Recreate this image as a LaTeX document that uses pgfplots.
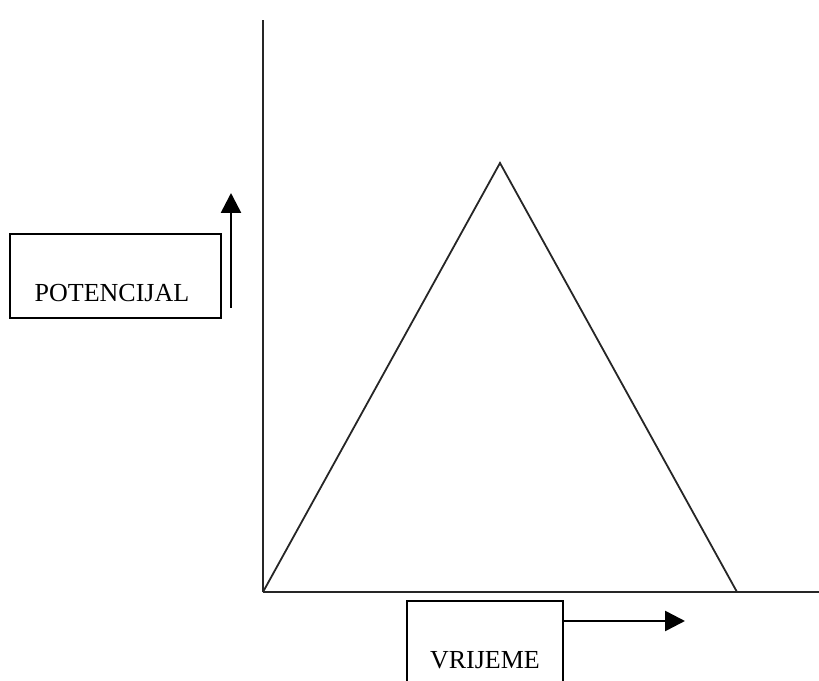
\documentclass[border=0pt]{standalone}
\usepackage{fontspec}
\setmainfont{Liberation Serif}
\usepackage{pgfplots}
\pgfplotsset{compat=1.18}
\usetikzlibrary{arrows.meta}

\begin{document}
\begin{tikzpicture}
\begin{axis}[
  x=0.5pt, y=0.5pt,
  xmin=0, xmax=556,
  ymin=0, ymax=572,
  axis lines*=left,
  axis line style={line width=1pt, black!85},
  ticks=none,
  clip=false,
]
% potential rises linearly, then falls back to zero
\addplot[black!85, line width=0.9pt] coordinates {(0,0) (237,429) (474,0)};

% label boxes with arrows
\draw[line width=0.8pt] (axis cs:-253,274) rectangle (axis cs:-42,358);
\node[anchor=base, font=\fontsize{13}{15}\selectfont] at (axis cs:-151,290) {POTENCIJAL};
\draw[line width=1.3pt, -{Triangle[length=10pt,width=10pt]}] (axis cs:-32,284) -- (axis cs:-32,399);

\draw[line width=0.8pt] (axis cs:144,-9) rectangle (axis cs:300,-96);
\node[anchor=base, font=\fontsize{13}{15}\selectfont] at (axis cs:222,-76) {VRIJEME};
\draw[line width=1.3pt, -{Triangle[length=10pt,width=10pt]}] (axis cs:300,-29) -- (axis cs:422,-29);

\coordinate (bbll) at (axis cs:-263,-88);
\coordinate (bbur) at (axis cs:556,592);
\end{axis}
\pgfresetboundingbox
\useasboundingbox (bbll) rectangle (bbur);
\end{tikzpicture}
\end{document}
